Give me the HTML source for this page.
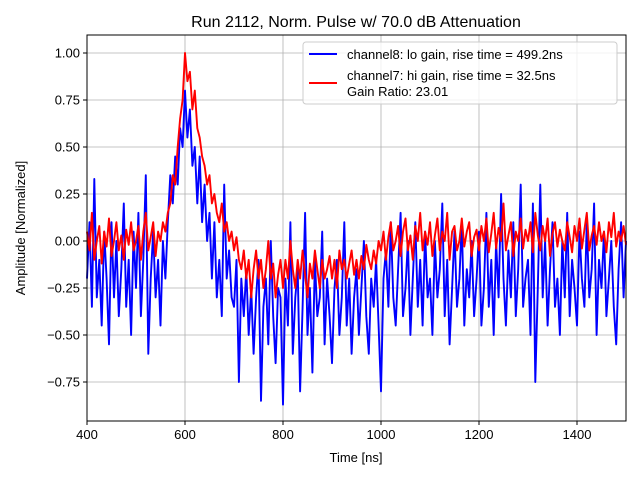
<!DOCTYPE html>
<html><head><meta charset="utf-8"><style>
body{margin:0;background:#fff}
svg text{font-family:"Liberation Sans","DejaVu Sans",sans-serif;fill:#000}
</style></head><body>
<svg id="chart" width="640" height="480" viewBox="0 0 640 480">
<rect width="640" height="480" fill="#fff"/>
<text x="356" y="27" font-size="16" text-anchor="middle">Run 2112, Norm. Pulse w/ 70.0 dB Attenuation</text>
<text x="356" y="462" font-size="13" text-anchor="middle">Time [ns]</text>
<text x="25" y="228" font-size="13" text-anchor="middle" transform="rotate(-90 25 228)">Amplitude [Normalized]</text>
<g id="grid"></g><g id="series"></g><g id="ticks"></g>
<rect x="87" y="35" width="539" height="386" fill="none" stroke="#000" stroke-width="1"/>
<g>
<rect x="303" y="42" width="314" height="62" rx="3" fill="#fff" fill-opacity="0.8" stroke="#ccc"/>
<line x1="309" y1="54" x2="337" y2="54" stroke="#0000ff" stroke-width="2"/>
<text x="347" y="59" font-size="13">channel8: lo gain, rise time = 499.2ns</text>
<line x1="309" y1="83" x2="337" y2="83" stroke="#ff0000" stroke-width="2"/>
<text x="347" y="80" font-size="13">channel7: hi gain, rise time = 32.5ns</text>
<text x="347" y="96" font-size="13">Gain Ratio: 23.01</text>
</g>
</svg>
<script>
const xStart = 400, xStep = 5;
const xTicks = [400,600,800,1000,1200,1400];
const yTicks = [-0.75,-0.5,-0.25,0,0.25,0.5,0.75,1.0];
const yTickLabels = ["−0.75","−0.50","−0.25","0.00","0.25","0.50","0.75","1.00"];
const blueValues = [
-0.2,0.1,-0.35,0.33,-0.3,-0.1,-0.45,0.05,-0.2,-0.55,0.1,-0.3,0.0,-0.4,-0.15,0.2,-0.35,-0.1,-0.5,0.05,
-0.25,0.15,-0.4,-0.1,0.35,-0.6,-0.2,0.05,-0.3,-0.1,-0.45,0.0,-0.2,0.1,0.35,0.2,0.45,0.3,0.6,0.5,
0.8,0.55,0.7,0.4,0.5,0.2,0.45,0.1,0.3,0.0,0.15,-0.2,0.1,-0.3,-0.1,-0.4,0.3,-0.2,-0.05,-0.3,
-0.35,-0.1,-0.75,-0.2,-0.4,-0.15,-0.5,-0.25,-0.6,-0.3,-0.1,-0.85,-0.35,-0.2,-0.55,0.0,-0.4,-0.65,-0.25,-0.3,
-0.87,-0.2,-0.45,0.1,-0.6,-0.3,-0.15,-0.8,-0.35,0.15,-0.5,-0.25,-0.7,-0.1,-0.4,-0.3,0.05,-0.55,-0.2,-0.4,
-0.65,-0.25,-0.1,-0.5,-0.3,0.1,-0.45,-0.2,-0.6,-0.3,-0.15,-0.5,-0.25,0.0,-0.4,-0.6,-0.2,-0.35,-0.1,-0.45,
-0.8,-0.2,-0.05,-0.35,0.1,-0.3,-0.45,-0.15,0.15,-0.4,-0.25,0.0,-0.5,-0.2,0.1,-0.35,-0.1,-0.45,0.05,-0.3,
-0.2,-0.5,0.0,-0.3,-0.15,0.2,-0.4,-0.1,-0.55,-0.25,0.05,-0.35,-0.2,0.1,-0.45,-0.15,-0.3,0.0,-0.4,-0.2,
0.05,-0.45,-0.25,0.15,-0.35,-0.1,-0.5,0.0,-0.3,0.25,-0.2,-0.45,-0.05,-0.3,0.1,-0.4,-0.15,0.3,-0.35,-0.2,
-0.1,-0.5,0.2,-0.75,-0.25,0.3,-0.3,0.0,-0.45,-0.15,0.1,-0.35,-0.2,-0.5,0.0,-0.3,0.15,-0.4,-0.1,-0.25,
-0.45,0.05,-0.2,-0.35,0.1,-0.3,-0.15,0.2,-0.5,-0.1,-0.25,0.05,-0.4,-0.2,0.0,-0.35,-0.55,-0.15,0.1,-0.3,0.0];
const redValues = [
0.05,-0.05,0.15,-0.1,0.0,0.08,-0.12,0.05,-0.03,0.12,-0.08,0.0,0.1,-0.05,0.03,-0.1,0.06,-0.02,0.1,-0.05,
0.0,0.08,-0.1,0.05,0.15,-0.05,0.02,0.1,-0.08,0.05,0.0,0.1,0.05,0.15,0.2,0.35,0.3,0.5,0.65,0.75,
1.0,0.85,0.9,0.7,0.8,0.6,0.55,0.45,0.4,0.3,0.35,0.2,0.25,0.15,0.1,0.2,0.05,0.1,0.0,0.05,
-0.05,0.02,-0.1,-0.15,-0.05,-0.2,-0.1,-0.3,-0.15,-0.05,-0.2,-0.1,-0.25,-0.15,0.0,-0.2,-0.12,-0.3,-0.18,-0.1,
-0.25,-0.1,-0.2,0.0,-0.15,-0.25,-0.1,-0.2,-0.05,-0.18,-0.3,-0.12,-0.2,-0.05,-0.15,-0.25,-0.1,-0.2,-0.15,-0.08,
-0.2,-0.1,-0.25,-0.05,-0.15,-0.1,-0.2,-0.12,-0.05,-0.18,-0.1,-0.2,-0.08,-0.15,-0.02,-0.1,-0.15,-0.05,-0.12,0.0,
-0.05,0.05,-0.1,0.02,0.1,-0.05,0.0,0.08,-0.08,0.05,0.12,-0.05,0.03,-0.1,0.08,0.0,0.15,-0.05,0.05,-0.02,
0.1,-0.08,0.03,0.12,-0.05,0.05,0.0,0.15,-0.1,0.05,0.08,-0.05,0.0,0.12,-0.03,0.05,0.1,-0.08,0.02,0.06,
-0.05,0.08,0.0,0.12,-0.06,0.04,0.15,-0.04,0.07,0.0,0.2,-0.05,0.03,0.1,-0.08,0.05,0.0,0.12,-0.04,0.06,
0.0,0.1,-0.06,0.15,0.03,-0.05,0.08,0.0,0.12,-0.08,0.04,0.1,-0.03,0.06,0.0,-0.05,0.1,0.02,-0.06,0.08,
0.0,0.12,-0.04,0.06,0.15,-0.05,0.03,0.08,-0.02,0.1,0.0,0.05,-0.06,0.1,0.02,0.15,-0.03,0.05,0.0,0.08,-0.02];

const NS="http://www.w3.org/2000/svg";
const X0=87,X1=626,Y0=421,Y1=35;
function xs(v){return X0+(v-400)/(1500-400)*(X1-X0);}
function ys(v){return 241-v*188;}
function mk(t,a,p){const e=document.createElementNS(NS,t);for(const k in a)e.setAttribute(k,a[k]);p.appendChild(e);return e;}
const grid=document.getElementById('grid'),ticks=document.getElementById('ticks'),ser=document.getElementById('series');
xTicks.forEach(t=>{const x=xs(t);
 const g=mk('line',{x1:x,x2:x,y1:Y1,y2:Y0,stroke:'#b0b0b0','stroke-width':0.8},grid);
 
 
 mk('line',{x1:x,x2:x,y1:Y0,y2:Y0+4,stroke:'#000'},ticks);
 const tx=mk('text',{x:x,y:Y0+18,'font-size':13,'text-anchor':'middle'},ticks);tx.textContent=t;
 
 
});
yTicks.forEach((t,i)=>{const y=ys(t);
 const g=mk('line',{x1:X0,x2:X1,y1:y,y2:y,stroke:'#b0b0b0','stroke-width':0.8},grid);
 
 
 mk('line',{x1:X0-4,x2:X0,y1:y,y2:y,stroke:'#000'},ticks);
 const tx=mk('text',{x:X0-7,y:y+4.5,'font-size':13,'text-anchor':'end'},ticks);tx.textContent=yTickLabels[i];
 
 
});
function line(vals,color,name){
 const pts=vals.map((v,i)=>xs(xStart+i*xStep).toFixed(1)+','+ys(v).toFixed(1)).join(' ');
 const p=mk('polyline',{points:pts,fill:'none',stroke:color,'stroke-width':1.9,'stroke-linejoin':'round'},ser);
 
 
}
line(blueValues,'#0000ff','series-channel8');
line(redValues,'#ff0000','series-channel7');
</script>
</body></html>
